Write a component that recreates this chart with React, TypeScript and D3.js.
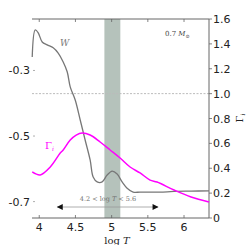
import React, { useEffect, useRef } from "react";
import * as d3 from "d3";

// log T grid and the two curves
const wLogT = [3.903, 3.945, 3.986, 4.041, 4.11, 4.193, 4.262, 4.331, 4.386, 4.428, 4.497, 4.566, 4.634, 4.703, 4.745, 4.8, 4.869, 4.938, 5.007, 5.076, 5.145, 5.214, 5.297, 5.393, 5.531, 5.669, 5.862, 6.097, 6.345];
const wValues = [-0.259, -0.176, -0.185, -0.213, -0.222, -0.231, -0.247, -0.274, -0.304, -0.35, -0.39, -0.451, -0.512, -0.573, -0.625, -0.64, -0.64, -0.619, -0.607, -0.616, -0.64, -0.659, -0.671, -0.671, -0.671, -0.671, -0.669, -0.668, -0.667];

const gammaLogT = [3.903, 4.014, 4.152, 4.29, 4.331, 4.428, 4.51, 4.593, 4.703, 4.841, 4.979, 5.117, 5.255, 5.393, 5.531, 5.628, 5.862, 6.097, 6.345];
const gammaValues = [0.37, 0.346, 0.41, 0.522, 0.547, 0.627, 0.667, 0.683, 0.667, 0.611, 0.547, 0.482, 0.41, 0.362, 0.305, 0.289, 0.225, 0.169, 0.129];

const xTicks = [4, 4.5, 5, 5.5, 6];
const xTickLabels = ["4", "4.5", "5", "5.5", "6"];
const leftTicks = [-0.3, -0.5, -0.7];
const leftTickLabels = ["-0.3", "-0.5", "-0.7"];
const rightTicks = [0, 0.2, 0.4, 0.6, 0.8, 1.0, 1.2, 1.4, 1.6];
const rightTickLabels = ["0", "0.2", "0.4", "0.6", "0.8", "1.0", "1.2", "1.4", "1.6"];

const band = [4.9, 5.12];
const arrowRange = [4.25, 5.64];
const gammaRef = 1.0;

const App = () => {
  const chartCtr = useRef<SVGSVGElement | null>(null);

  useEffect(() => {
    if (!chartCtr.current) return;
    const svg = d3.select(chartCtr.current);
    svg.selectAll("*").remove();

    const left = 32, right = 209, top = 19, bottom = 218;
    const x = d3.scaleLinear().domain([3.9, 6.345]).range([left, right]);
    const yW = d3.scaleLinear().domain([-0.75, -0.143]).range([bottom, top]);
    const yG = d3.scaleLinear().domain([0, 1.6]).range([bottom, top]);
    const axisCol = "#666";

    const defs = svg.append("defs");
    defs
      .append("marker")
      .attr("id", "head")
      .attr("viewBox", "0 0 10 10")
      .attr("refX", 9)
      .attr("refY", 5)
      .attr("markerWidth", 7)
      .attr("markerHeight", 6)
      .attr("markerUnits", "userSpaceOnUse")
      .attr("orient", "auto-start-reverse")
      .append("path")
      .attr("d", "M0,0L10,5L0,10Z")
      .attr("fill", "#111");

    // shaded band
    svg
      .append("rect")
      .attr("x", x(band[0]))
      .attr("y", top)
      .attr("width", x(band[1]) - x(band[0]))
      .attr("height", bottom - top)
      .attr("fill", "#b5c2bb");

    // dotted Gamma = 1 line
    svg
      .append("line")
      .attr("x1", left)
      .attr("x2", right)
      .attr("y1", yG(gammaRef))
      .attr("y2", yG(gammaRef))
      .attr("stroke", "#bbb")
      .attr("stroke-width", 1)
      .attr("stroke-dasharray", "2,1.5");

    // frame (no left spine)
    svg.append("line").attr("x1", left).attr("x2", right).attr("y1", top).attr("y2", top).attr("stroke", axisCol);
    svg.append("line").attr("x1", left).attr("x2", right).attr("y1", bottom).attr("y2", bottom).attr("stroke", axisCol);
    svg.append("line").attr("x1", right).attr("x2", right).attr("y1", top).attr("y2", bottom).attr("stroke", axisCol);

    // x ticks
    xTicks.forEach((t, i) => {
      svg.append("line").attr("x1", x(t)).attr("x2", x(t)).attr("y1", bottom).attr("y2", bottom - 3).attr("stroke", axisCol).attr("stroke-width", 0.8);
      svg.append("line").attr("x1", x(t)).attr("x2", x(t)).attr("y1", top).attr("y2", top + 3).attr("stroke", axisCol).attr("stroke-width", 0.8);
      svg
        .append("text")
        .attr("x", x(t))
        .attr("y", 231)
        .attr("text-anchor", "middle")
        .attr("font-family", "DejaVu Sans")
        .attr("font-size", 11)
        .attr("fill", "#222")
        .text(xTickLabels[i]);
    });

    // left ticks
    leftTicks.forEach((t, i) => {
      svg.append("line").attr("x1", left + 1).attr("x2", left + 3).attr("y1", yW(t)).attr("y2", yW(t)).attr("stroke", "#999").attr("stroke-width", 0.8);
      svg
        .append("text")
        .attr("x", 30)
        .attr("y", yW(t) + 4)
        .attr("text-anchor", "end")
        .attr("font-family", "DejaVu Sans")
        .attr("font-size", 11)
        .attr("fill", "#222")
        .text(leftTickLabels[i]);
    });

    // right ticks
    rightTicks.forEach((t, i) => {
      svg.append("line").attr("x1", right).attr("x2", right + 3).attr("y1", yG(t)).attr("y2", yG(t)).attr("stroke", axisCol).attr("stroke-width", 0.8);
      svg
        .append("text")
        .attr("x", 213)
        .attr("y", yG(t) + 4)
        .attr("font-family", "DejaVu Sans")
        .attr("font-size", 11)
        .attr("fill", "#222")
        .text(rightTickLabels[i]);
    });

    // curves
    const wLine = d3
      .line<number>()
      .x((d, i) => x(wLogT[i]))
      .y((d) => yW(d))
      .curve(d3.curveCatmullRom);
    svg.append("path").datum(wValues).attr("fill", "none").attr("stroke", "#777").attr("stroke-width", 1.3).attr("d", wLine);

    const gLine = d3
      .line<number>()
      .x((d, i) => x(gammaLogT[i]))
      .y((d) => yG(d))
      .curve(d3.curveCatmullRom);
    svg.append("path").datum(gammaValues).attr("fill", "none").attr("stroke", "#ff00ff").attr("stroke-width", 1.5).attr("d", gLine);

    // arrow for the temperature range
    const arrowY = 207;
    svg
      .append("line")
      .attr("x1", x(arrowRange[0]))
      .attr("x2", x(arrowRange[1]))
      .attr("y1", arrowY)
      .attr("y2", arrowY)
      .attr("stroke", "#999")
      .attr("stroke-width", 0.8)
      .attr("marker-start", "url(#head)")
      .attr("marker-end", "url(#head)");

    const serif = "DejaVu Serif";
    const rt = svg
      .append("text")
      .attr("x", 108)
      .attr("y", 201)
      .attr("text-anchor", "middle")
      .attr("font-family", serif)
      .attr("font-size", 6.5)
      .attr("fill", "#707070");
    rt.append("tspan").text("4.2 < log ");
    rt.append("tspan").attr("font-style", "italic").text("T");
    rt.append("tspan").text(" < 5.6");

    // curve labels
    svg.append("text").attr("x", 60).attr("y", 46).attr("font-family", serif).attr("font-style", "italic").attr("font-size", 9).attr("fill", "#777").text("W");

    const gl = svg.append("text").attr("x", 45).attr("y", 149).attr("font-family", serif).attr("font-size", 10).attr("fill", "#ff00ff");
    gl.append("tspan").text("Γ");
    gl.append("tspan").attr("font-size", 6).attr("dy", 2).attr("font-style", "italic").text("i");

    const ml = svg.append("text").attr("x", 165).attr("y", 36).attr("font-family", serif).attr("font-size", 7).attr("fill", "#444");
    ml.append("tspan").text("0.7 ");
    ml.append("tspan").attr("font-style", "italic").text("M");
    ml.append("tspan").attr("font-size", 5).attr("dy", 1.5).text("⊙");

    // axis labels
    const xl = svg.append("text").attr("x", 117).attr("y", 243.5).attr("text-anchor", "middle").attr("font-family", serif).attr("font-size", 10).attr("fill", "#222");
    xl.append("tspan").text("log ");
    xl.append("tspan").attr("font-style", "italic").text("T");

    const rl = svg.append("text").attr("transform", "translate(243,118) rotate(-90)").attr("text-anchor", "middle").attr("font-family", serif).attr("font-size", 10).attr("fill", "#222");
    rl.append("tspan").text("Γ");
    rl.append("tspan").attr("font-size", 6).attr("dy", 2).attr("font-style", "italic").text("i");
  }, []);

  return (
    <div style={{ position: "absolute", left: 0, top: 0 }}>
      <svg ref={chartCtr} width={249} height={245} style={{ display: "block", background: "#fff" }} />
    </div>
  );
};

export default App;
